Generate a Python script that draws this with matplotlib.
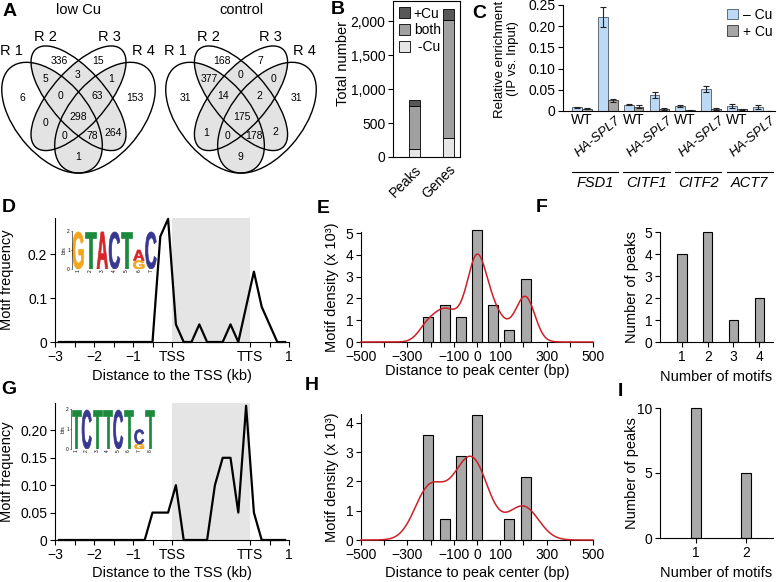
import numpy as np
import matplotlib
matplotlib.use("Agg")
import matplotlib.pyplot as plt
from matplotlib.patches import Ellipse, PathPatch
from matplotlib.textpath import TextPath
from matplotlib.font_manager import FontProperties
from matplotlib.transforms import Affine2D
from matplotlib.ticker import StrMethodFormatter

plt.rcParams['font.family'] = ['Liberation Sans', 'DejaVu Sans']
plt.rcParams.update({
    'font.size': 10, 'axes.linewidth': 0.8,
    'xtick.direction': 'out', 'ytick.direction': 'out',
    'xtick.major.size': 3.5, 'ytick.major.size': 3.5,
    'xtick.major.width': 0.8, 'ytick.major.width': 0.8,
    'xtick.major.pad': 2, 'ytick.major.pad': 2,
    'xtick.labelsize': 10, 'ytick.labelsize': 10,
})

# ---------------- data ----------------
# A: Venn diagrams (replicates R1-R4)
set_names = ['R 1', 'R 2', 'R 3', 'R 4']
region_keys = ['1', '2', '3', '4', '12', '23', '34', '123', '234', '1234',
               '13', '24', '134', '124', '14']
low_cu_counts = [6, 336, 15, 153, 5, 3, 1, 0, 63, 298, 0, 264, 0, 78, 1]
control_counts = [31, 168, 7, 31, 377, 0, 0, 14, 2, 175, 1, 2, 0, 178, 9]

# B: total number of peaks / genes
b_categories = ['Peaks', 'Genes']
b_minus_cu = [118, 286]
b_both = [636, 1741]
b_plus_cu = [89, 158]

# C: ChIP-qPCR relative enrichment
c_strains = ['WT', 'HA-SPL7', 'WT', 'HA-SPL7', 'WT', 'HA-SPL7', 'WT', 'HA-SPL7']
c_genes = ['FSD1', 'CITF1', 'CITF2', 'ACT7']
c_minus_cu = [0.009, 0.222, 0.015, 0.038, 0.012, 0.051, 0.012, 0.009]
c_minus_err = [0.001, 0.024, 0.001, 0.007, 0.003, 0.007, 0.004, 0.004]
c_plus_cu = [0.005, 0.025, 0.010, 0.005, 0.002, 0.005, 0.004, 0.001]
c_plus_err = [0.001, 0.003, 0.004, 0.002, 0.001, 0.002, 0.001, 0.0]

# D / G: motif frequency along genes (TSS = 0, TTS = 2)
tss_bins = [-2.9, -2.7, -2.5, -2.3, -2.1, -1.9, -1.7, -1.5, -1.3, -1.1,
            -0.9, -0.7, -0.5, -0.3, -0.1, 0.1, 0.3, 0.5, 0.7, 0.9,
            1.1, 1.3, 1.5, 1.7, 1.9, 2.1, 2.3, 2.5, 2.7, 2.9]
d_freq = [0, 0, 0, 0, 0, 0, 0, 0, 0, 0,
          0, 0, 0, 0.24, 0.28, 0.04, 0, 0, 0.04, 0,
          0, 0, 0.04, 0, 0.08, 0.16, 0.08, 0.04, 0, 0]
g_freq = [0, 0, 0, 0, 0, 0, 0, 0, 0, 0,
          0, 0, 0.05, 0.05, 0.05, 0.10, 0, 0, 0, 0,
          0.10, 0.15, 0.15, 0.05, 0.245, 0.05, 0, 0, 0, 0]

# E / H: motif density around peak centre (x 10^3)
peak_bins = [-210, -140, -70, 0, 70, 140, 210]
e_density = [1.15, 1.72, 1.15, 5.15, 1.72, 0.57, 2.87]
h_density = [3.57, 0.71, 2.86, 4.28, 0, 0.71, 2.14]

# F / I: number of peaks by number of motifs
f_motifs = [1, 2, 3, 4]
f_peaks = [4, 5, 1, 2]
i_motifs = [1, 2]
i_peaks = [10, 5]

# sequence logos (bottom -> top per position)
d_logo = [[('G', 1.95)], [('T', 1.95)], [('A', 1.95)], [('C', 1.95)],
          [('T', 1.95)], [('G', 0.45), ('A', 0.55)], [('C', 1.95)]]
g_logo = [[('T', 1.95)], [('C', 1.95)], [('T', 1.95)], [('T', 1.95)],
          [('C', 1.95)], [('T', 1.95)], [('G', 0.25), ('C', 0.72)], [('T', 1.95)]]
logo_colors = {'A': '#d7262b', 'C': '#383891', 'G': '#f4a51e', 'T': '#1b8a3c'}

# ---------------- layout helpers ----------------
W, H = 777, 582
fig = plt.figure(figsize=(W / 100, H / 100), dpi=100)


def px_box(x0, y0, x1, y1):
    return [x0 / W, 1 - y1 / H, (x1 - x0) / W, (y1 - y0) / H]


def new_axes(box, box_spines=False):
    ax = fig.add_axes(px_box(*box))
    if not box_spines:
        ax.spines['top'].set_visible(False)
        ax.spines['right'].set_visible(False)
    return ax


def xlabel_at(ax, box, text, py_top, **kw):
    ax.set_xlabel(text, fontsize=10.5, **kw)
    ax.xaxis.set_label_coords(0.5, (box[3] - py_top) / (box[3] - box[1]))


def ylabel_at(ax, box, text, px_right, py_mid=None, size=10.5, **kw):
    ax.set_ylabel(text, fontsize=size, **kw)
    ym = 0.5 if py_mid is None else (box[3] - py_mid) / (box[3] - box[1])
    ax.yaxis.set_label_coords((px_right - box[0]) / (box[2] - box[0]), ym)


def panel_letter(ch, px, py):
    fig.text(px / W, 1 - py / H, ch, fontsize=14, fontweight='bold',
             ha='center', va='center')


# ---------------- A: Venn ----------------
ellipse_geo = [(0.35, 0.47, 0.35, 0.20, -45),
               (0.50, 0.57, 0.35, 0.15, -45),
               (0.50, 0.57, 0.35, 0.15, 45),
               (0.65, 0.47, 0.35, 0.20, 45)]
vx0, vx1, vy0, vy1 = 0.065, 0.935, 0.185, 0.8393


def inside(e, X, Y):
    cx, cy, a, b, ang = e
    t = np.deg2rad(ang)
    dx, dy = X - cx, Y - cy
    u = dx * np.cos(t) + dy * np.sin(t)
    v = -dx * np.sin(t) + dy * np.cos(t)
    return (u / a) ** 2 + (v / b) ** 2 <= 1


def draw_venn(box, counts, title):
    ax = fig.add_axes(px_box(*box))
    ax.set_xlim(vx0 - 0.01, vx1 + 0.01)
    ax.set_ylim(vy0 - 0.01, vy1 + 0.01)
    ax.axis('off')
    outlines = []
    for cx, cy, a, b, ang in ellipse_geo:
        e = Ellipse((cx, cy), 2 * a, 2 * b, angle=ang, fill=False,
                    ec='black', lw=1.0, zorder=3)
        ax.add_patch(e)
        outlines.append(e)
    # grey where at least two sets overlap
    for i in range(4):
        for j in range(i + 1, 4):
            cx, cy, a, b, ang = ellipse_geo[i]
            f = Ellipse((cx, cy), 2 * a, 2 * b, angle=ang, fc='#e3e3e3',
                        ec='none', zorder=1)
            ax.add_patch(f)
            f.set_clip_path(outlines[j])
    # put each count at the most interior point of its region
    sx = (box[2] - box[0]) / (vx1 - vx0 + 0.02)
    sy = (box[3] - box[1]) / (vy1 - vy0 + 0.02)
    gx, gy = np.meshgrid(np.linspace(vx0, vx1, 130), np.linspace(vy0, vy1, 110))
    gx, gy = gx.ravel(), gy.ravel()
    member = np.array([inside(e, gx, gy) for e in ellipse_geo])
    for key, n in zip(region_keys, counts):
        want = np.array([str(k + 1) in key for k in range(4)])
        m = np.all(member == want[:, None], axis=0)
        pin = np.c_[gx[m] * sx, gy[m] * sy]
        pout = np.c_[gx[~m] * sx, gy[~m] * sy]
        best = np.zeros(len(pin))
        for s in range(0, len(pin), 150):
            d = ((pin[s:s + 150, None, :] - pout[None, :, :]) ** 2).sum(-1)
            best[s:s + 150] = d.min(1)
        k = best.argmax()
        ax.text(pin[k, 0] / sx, pin[k, 1] / sy, str(n), ha='center',
                va='center', fontsize=7.5, zorder=4)
    name_pos = [(0.076, 0.95), (0.287, 1.055), (0.694, 1.055), (0.911, 0.95)]
    for name, (x, y) in zip(set_names, name_pos):
        ax.text(x, y, name, transform=ax.transAxes, ha='center', va='center',
                fontsize=10.5)
    ax.text(0.5, 1.26, title, transform=ax.transAxes, ha='center',
            va='center', fontsize=10.5)
    return ax


draw_venn((0, 44, 157, 175), low_cu_counts, 'low Cu')
draw_venn((164, 44, 318, 175), control_counts, 'control')

# ---------------- B: stacked bars ----------------
bb = (393, 1, 460, 157)
axb = new_axes(bb, box_spines=True)
xb = np.arange(len(b_categories))
wb = 0.32
bar_m = axb.bar(xb, b_minus_cu, wb, color='#e6e6e6', ec='black', lw=0.6)
bar_b = axb.bar(xb, b_both, wb, bottom=b_minus_cu, color='#a0a0a0', ec='black', lw=0.6)
bar_p = axb.bar(xb, b_plus_cu, wb, bottom=np.add(b_minus_cu, b_both),
                color='#585858', ec='black', lw=0.6)
axb.set_xlim(-0.63, 1.34)
axb.set_ylim(0, 2300)
axb.set_yticks([0, 500, 1000, 1500, 2000])
axb.yaxis.set_major_formatter(StrMethodFormatter('{x:,.0f}'))
axb.set_xticks(xb)
axb.set_xticklabels(b_categories, rotation=45, ha='right', rotation_mode='anchor')
axb.tick_params(axis='x', length=0, pad=4)
axb.legend([bar_p, bar_b, bar_m], ['+Cu', 'both', ' -Cu'], loc='upper left',
           frameon=False, fontsize=10, handlelength=0.8, handleheight=0.8,
           handletextpad=0.3, labelspacing=0.2, borderpad=0.2, borderaxespad=0.2)
ylabel_at(axb, bb, 'Total number', 350, 63)

# ---------------- C: ChIP enrichment ----------------
cb = (563, 5, 775, 111)
axc = new_axes(cb)
xc = np.arange(len(c_strains))
wc = 0.38
ekw = dict(lw=0.8, capsize=2.5, capthick=0.8, ecolor='#222222')
bc1 = axc.bar(xc - wc / 2, c_minus_cu, wc, yerr=c_minus_err, color='#bcd9f5',
              ec='#4a5a6a', lw=0.6, error_kw=ekw)
bc2 = axc.bar(xc + wc / 2, c_plus_cu, wc, yerr=c_plus_err, color='#a6a6a6',
              ec='#333333', lw=0.6, error_kw=ekw)
axc.set_xlim(-0.74, 7.48)
axc.set_ylim(0, 0.25)
axc.set_yticks([0, 0.05, 0.10, 0.15, 0.20, 0.25])
axc.set_yticklabels(['0', '0.05', '0.10', '0.15', '0.20', '0.25'])
axc.set_xticks([])
tr = axc.get_xaxis_transform()
for i, s in enumerate(c_strains):
    if s == 'WT':
        axc.text(i, -0.02, s, transform=tr, ha='center', va='top', fontsize=10)
    else:
        axc.text(i + 0.3, -0.03, s, transform=tr, ha='right', va='top',
                 rotation=40, rotation_mode='anchor', style='italic', fontsize=9.5)
for g, gene in enumerate(c_genes):
    axc.plot([2 * g - 0.4, 2 * g + 1.4], [-0.575, -0.575], color='black',
             lw=0.8, transform=tr, clip_on=False)
    axc.text(2 * g + 0.5, -0.68, gene, transform=tr, ha='center', va='center',
             style='italic', fontsize=10.5)
axc.legend([bc1, bc2], ['– Cu', '+ Cu'], loc='upper right', frameon=False,
           fontsize=10, handlelength=0.8, handleheight=0.8, handletextpad=0.3,
           labelspacing=0.2, borderpad=0.1, borderaxespad=0.1)
ylabel_at(axc, cb, 'Relative enrichment\n(IP vs. Input)', 519, 59, size=9.5,
          linespacing=1.15)


# ---------------- D / G: motif frequency ----------------
logo_font = FontProperties(family='Liberation Sans', weight='bold')


def draw_logo(box, stacks):
    ax = fig.add_axes(px_box(*box))
    ax.patch.set_visible(False)
    for sp in ['top', 'right', 'bottom']:
        ax.spines[sp].set_visible(False)
    ax.spines['left'].set_linewidth(0.4)
    ax.set_xlim(0.5, len(stacks) + 0.5)
    ax.set_ylim(0, 2)
    for pos, stack in enumerate(stacks, start=1):
        y = 0
        for ch, h in stack:
            tp = TextPath((0, 0), ch, size=1, prop=logo_font)
            e = tp.get_extents()
            w = 0.9
            t = Affine2D().translate(-e.x0, -e.y0).scale(w / e.width, h / e.height)
            t = t.translate(pos - w / 2, y)
            ax.add_patch(PathPatch(t.transform_path(tp), fc=logo_colors[ch],
                                   ec=logo_colors[ch], lw=0.5))
            y += h
    ax.set_yticks([0, 1, 2])
    ax.tick_params(axis='y', labelsize=3.5, length=1, width=0.4, pad=0.5)
    ax.set_xticks(range(1, len(stacks) + 1))
    ax.tick_params(axis='x', labelsize=3.5, length=0, pad=0.5, labelrotation=90)
    ax.set_ylabel('bits', fontsize=3.5, labelpad=0.5)
    return ax


def freq_panel(box, freq, yticks, ylabels, ytop, logo_box, stacks):
    ax = new_axes(box)
    ax.axvspan(0, 2, color='#e5e5e5', lw=0, zorder=0)
    ax.plot(tss_bins, freq, color='black', lw=1.6, clip_on=False, zorder=3)
    ax.set_xlim(-3, 3)
    ax.set_ylim(0, ytop)
    ax.set_xticks([-3, -2.5, -2, -1.5, -1, -0.5, 0, 2, 2.5, 3])
    ax.set_xticklabels(['−3', '', '−2', '', '−1', '', 'TSS', 'TTS', '', '1'])
    ax.set_yticks(yticks)
    ax.set_yticklabels(ylabels)
    ylabel_at(ax, box, 'Motif frequency', 14)
    draw_logo(logo_box, stacks)
    return ax


db = (55, 218, 289, 342)
axd = freq_panel(db, d_freq, [0, 0.1, 0.2], ['0', '0.1', '0.2'], 0.282,
                 (72, 231, 157, 269), d_logo)
xlabel_at(axd, db, 'Distance to the TSS (kb)', 369)

gb = (55, 403, 289, 540)
axg = freq_panel(gb, g_freq, [0, 0.05, 0.10, 0.15, 0.20],
                 ['0', '0.05', '0.10', '0.15', '0.20'], 0.25,
                 (71, 409, 155, 449), g_logo)
xlabel_at(axg, gb, 'Distance to the TSS (kb)', 566)


# ---------------- E / H: motif density ----------------
def kde_curve(centers, dens, bw, xs):
    centers = np.asarray(centers, float)
    dens = np.asarray(dens, float)
    step = np.diff(centers).mean()
    g = np.exp(-0.5 * ((xs[:, None] - centers[None, :]) / bw) ** 2) / (bw * np.sqrt(2 * np.pi))
    return (g * dens * step).sum(1)


def density_panel(box, dens, bw, ytop, yticks):
    ax = new_axes(box)
    ax.bar(peak_bins, dens, width=43, color='#a9a9a9', ec='black', lw=0.8,
           clip_on=False, zorder=2)
    xs = np.linspace(-500, 500, 501)
    ax.plot(xs, kde_curve(peak_bins, dens, bw, xs), color='#cc2027', lw=1.1,
            zorder=3, clip_on=False)
    ax.set_xlim(-500, 500)
    ax.set_ylim(0, ytop)
    ax.set_xticks(range(-500, 501, 100))
    ax.set_xticklabels(['−500', '', '−300', '', '−100', '0', '100', '', '300', '', '500'])
    ax.set_yticks(yticks)
    ylabel_at(ax, box, 'Motif density (x 10³)', 339)
    return ax


eb = (361, 232, 593, 342)
axe = density_panel(eb, e_density, 40, 5.05, [0, 1, 2, 3, 4, 5])
xlabel_at(axe, eb, 'Distance to peak center (bp)', 364)

hb = (361, 414, 593, 540)
axh = density_panel(hb, h_density, 62, 4.3, [0, 1, 2, 3, 4])
xlabel_at(axh, hb, 'Distance to peak center (bp)', 566)


# ---------------- F / I: number of motifs ----------------
def count_panel(box, motifs, peaks, width, xlim, ytop, yticks):
    ax = new_axes(box)
    ax.bar(motifs, peaks, width, color='#a9a9a9', ec='black', lw=0.8,
           clip_on=False, zorder=2)
    ax.set_xlim(*xlim)
    ax.set_ylim(0, ytop)
    ax.set_xticks(motifs)
    ax.set_yticks(yticks)
    ylabel_at(ax, box, 'Number of peaks', 639)
    return ax


fb = (660, 232, 773, 342)
axf = count_panel(fb, f_motifs, f_peaks, 0.36, (0.14, 4.54), 5, [0, 1, 2, 3, 4, 5])
xlabel_at(axf, fb, 'Number of motifs', 370)

ib = (660, 408, 773, 538)
axi = count_panel(ib, i_motifs, i_peaks, 0.19, (0.28, 2.54), 10, [0, 5, 10])
xlabel_at(axi, ib, 'Number of motifs', 566)

# ---------------- panel letters ----------------
for ch, px, py in [('A', 10, 11), ('B', 338, 10), ('C', 479, 13), ('D', 9, 207),
                   ('E', 323, 208), ('F', 542, 207), ('G', 9, 390),
                   ('H', 312, 385), ('I', 620, 392)]:
    panel_letter(ch, px, py)

fig.savefig('out.png', dpi=100)
